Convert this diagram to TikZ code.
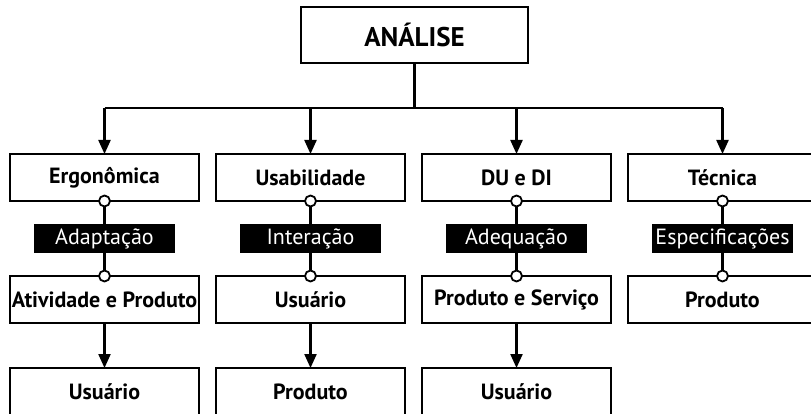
\documentclass[tikz,border=0pt]{standalone}
\usepackage{fontspec}
\setmainfont{PT Sans}
\usetikzlibrary{arrows.meta}

\tikzset{
  box/.style={draw,fill=white,line width=2.6pt,outer sep=0pt,inner sep=0pt,
    minimum width=189pt,minimum height=47pt,font=\bfseries\fontsize{22}{22}\selectfont},
  tag/.style={fill=black,text=white,inner sep=0pt,minimum width=141pt,
    minimum height=29pt,font=\fontsize{22}{22}\selectfont},
  link/.style={line width=2.2pt},
  arr/.style={link,-{Triangle[width=12pt,length=14pt]}},
  dot/.style={circle,draw,fill=white,line width=1.8pt,minimum size=11pt,inner sep=0pt}
}

\begin{document}
\begin{tikzpicture}[x=1pt,y=-1pt]
        \useasboundingbox (0,0) rectangle (811,414);
        \clip (0,0) rectangle (811,414);

        % top
        \node[box,minimum width=227pt,minimum height=56pt,font=\bfseries\fontsize{27}{27}\selectfont] (analise) at (414.5,35) {ANÁLISE};

        % first row
        \node[box] (ergo) at (104.5,177.5) {Ergonômica};
        \node[box] (usab) at (310.5,177.5) {Usabilidade};
        \node[box] (dudi) at (516.5,177.5) {DU e DI};
        \node[box] (tecn) at (722.5,177.5) {Técnica};

        % second row
        \node[box] (ativprod) at (104.5,299.5) {Atividade e Produto};
        \node[box] (usuario) at (310.5,299.5) {Usuário};
        \node[box] (prodserv) at (516.5,299.5) {Produto e Serviço};
        \node[box] (produto) at (722.5,299.5) {Produto};

        % third row
        \node[box] (usuario2) at (104.5,391.5) {Usuário};
        \node[box] (produto2) at (310.5,391.5) {Produto};
        \node[box] (usuario3) at (516.5,391.5) {Usuário};

        % bus
        \coordinate (bus) at (414.5,108);
        \draw[link] (analise) -- (bus);
        \draw[link] (ergo.north |- bus) -- (tecn.north |- bus);
        \foreach \n in {ergo,usab,dudi,tecn}
            \draw[arr] (\n.north |- bus) -- (\n);

        % links with tags
        \draw[link] (ergo) -- node[tag] (adapt) {Adaptação} (ativprod);
        \draw[link] (usab) -- node[tag] (inter) {Interação} (usuario);
        \draw[link] (dudi) -- node[tag] (adeq) {Adequação} (prodserv);
        \draw[link] (tecn) -- node[tag] (espec) {Especificações} (produto);
        \foreach \n in {ergo,usab,dudi,tecn}
            \node[dot] (\n-o) at (\n.south) {};
        \foreach \n in {ativprod,usuario,prodserv,produto}
            \node[dot] (\n-o) at (\n.north) {};

        % last arrows
        \draw[arr] (ativprod) -- (usuario2);
        \draw[arr] (usuario) -- (produto2);
        \draw[arr] (prodserv) -- (usuario3);
    \end{tikzpicture}
\end{document}
